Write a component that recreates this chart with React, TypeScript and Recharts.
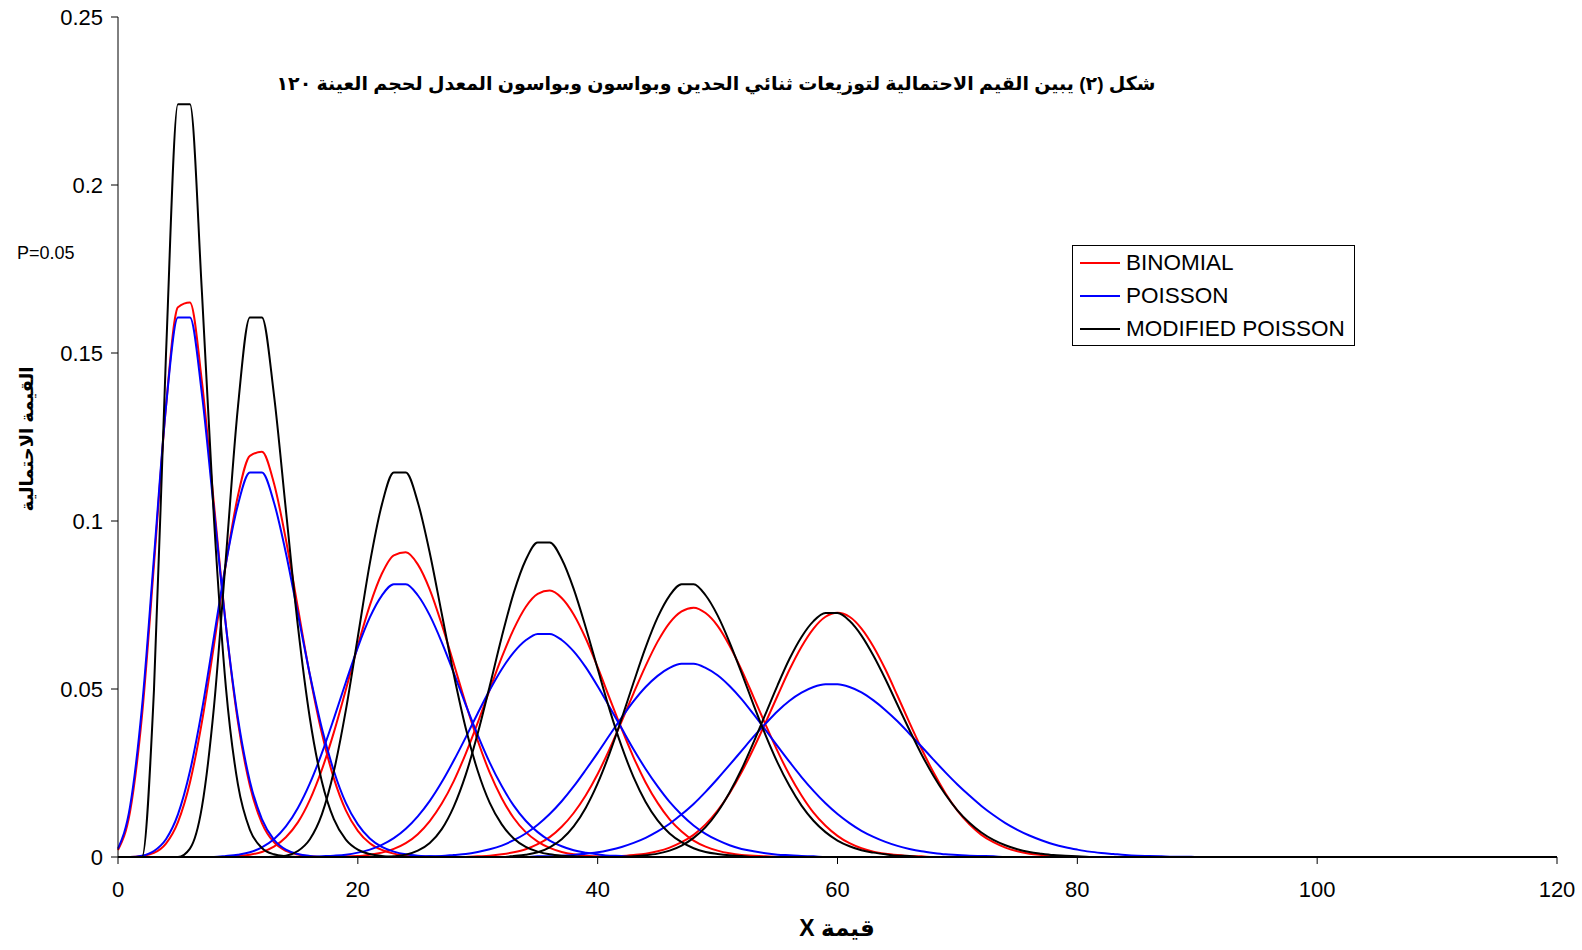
import { LineChart, Line, XAxis, YAxis, Legend } from 'recharts';

const RED = '#FF0000';
const BLUE = '#0000FF';
const BLACK = '#000000';

// x = 0 .. 120
const xValues = Array.from({ length: 121 }, (_, i) => i);
const xTicks = [0, 20, 40, 60, 80, 100, 120];
const yTicks = [0, 0.05, 0.1, 0.15, 0.2, 0.25];

// groups: P = 0.05, 0.1, 0.2, 0.3, 0.4, 0.5 (n = 120)
const groupKeys = ['p05', 'p10', 'p20', 'p30', 'p40', 'p50'];

// first x of each list (before it the curve lies on 0)
const binomialStarts = [0, 2, 10, 19, 30, 41];
const poissonStarts = [0, 2, 9, 17, 26, 35];
const modifiedStarts = [3, 6, 13, 23, 33, 43];

const binomialP05 = [0.0021, 0.0134, 0.042, 0.087, 0.134, 0.1636, 0.165, 0.1414, 0.1051, 0.0689, 0.0402, 0.0212, 0.0101, 0.0044, 0.0018, 0.0007, 0.0002];
const binomialP10 = [0.0003, 0.0012, 0.004, 0.0104, 0.0222, 0.0402, 0.063, 0.0872, 0.1075, 0.1194, 0.1206, 0.1113, 0.0945, 0.0742, 0.0541, 0.0368, 0.0234, 0.0139, 0.0078, 0.0041, 0.0021, 0.001, 0.0004, 0.0002];
const binomialP20 = [0.0003, 0.0007, 0.0015, 0.0031, 0.0059, 0.0103, 0.017, 0.026, 0.0371, 0.0498, 0.0629, 0.0749, 0.0843, 0.0898, 0.0907, 0.0871, 0.0796, 0.0692, 0.0575, 0.0456, 0.0346, 0.0251, 0.0175, 0.0116, 0.0074, 0.0046, 0.0027, 0.0015, 0.0008, 0.0004, 0.0002];
const binomialP30 = [0.0002, 0.0003, 0.0007, 0.0013, 0.0024, 0.0041, 0.0068, 0.0107, 0.0159, 0.0226, 0.0308, 0.04, 0.0498, 0.0594, 0.0678, 0.0744, 0.0783, 0.0793, 0.0771, 0.0722, 0.0651, 0.0565, 0.0472, 0.0381, 0.0296, 0.0222, 0.0161, 0.0112, 0.0076, 0.0049, 0.0031, 0.0019, 0.0011, 0.0006, 0.0004, 0.0002];
const binomialP40 = [0.0002, 0.0004, 0.0008, 0.0014, 0.0023, 0.0038, 0.0059, 0.009, 0.0131, 0.0183, 0.0247, 0.0322, 0.0404, 0.0488, 0.0569, 0.0641, 0.0697, 0.0731, 0.0742, 0.0726, 0.0688, 0.0629, 0.0557, 0.0476, 0.0394, 0.0315, 0.0244, 0.0183, 0.0132, 0.0093, 0.0063, 0.0041, 0.0026, 0.0016, 0.001, 0.0006, 0.0003, 0.0002];
const binomialP50 = [0.0002, 0.0003, 0.0006, 0.001, 0.0017, 0.0028, 0.0044, 0.0066, 0.0097, 0.0138, 0.019, 0.0252, 0.0323, 0.04, 0.048, 0.0558, 0.0626, 0.068, 0.0715, 0.0727, 0.0715, 0.068, 0.0626, 0.0558, 0.048, 0.04, 0.0323, 0.0252, 0.019, 0.0138, 0.0097, 0.0066, 0.0044, 0.0028, 0.0017, 0.001, 0.0006, 0.0003, 0.0002];

const poissonP05 = [0.0025, 0.0149, 0.0446, 0.0892, 0.1339, 0.1606, 0.1606, 0.1377, 0.1033, 0.0688, 0.0413, 0.0225, 0.0113, 0.0052, 0.0022, 0.0009, 0.0003];
const poissonP10 = [0.0004, 0.0018, 0.0053, 0.0127, 0.0255, 0.0437, 0.0655, 0.0874, 0.1048, 0.1144, 0.1144, 0.1056, 0.0905, 0.0724, 0.0543, 0.0383, 0.0256, 0.0161, 0.0097, 0.0055, 0.003, 0.0016, 0.0008, 0.0004, 0.0002];
const poissonP20 = [0.0003, 0.0007, 0.0014, 0.0029, 0.0053, 0.0091, 0.0146, 0.0219, 0.0309, 0.0412, 0.052, 0.0624, 0.0713, 0.0778, 0.0812, 0.0812, 0.0779, 0.0719, 0.0639, 0.0548, 0.0453, 0.0363, 0.0281, 0.0211, 0.0153, 0.0108, 0.0074, 0.0049, 0.0032, 0.002, 0.0013, 0.0008, 0.0004, 0.0003];
const poissonP30 = [0.0002, 0.0004, 0.0007, 0.0013, 0.0022, 0.0036, 0.0056, 0.0084, 0.0121, 0.0167, 0.0223, 0.0287, 0.0356, 0.0428, 0.0497, 0.0559, 0.0609, 0.0645, 0.0664, 0.0664, 0.0646, 0.0612, 0.0565, 0.0508, 0.0446, 0.0383, 0.032, 0.0262, 0.021, 0.0164, 0.0126, 0.0094, 0.0069, 0.005, 0.0035, 0.0024, 0.0017, 0.0011, 0.0007, 0.0005, 0.0003, 0.0002];
const poissonP40 = [0.0002, 0.0003, 0.0006, 0.0009, 0.0015, 0.0023, 0.0034, 0.005, 0.007, 0.0096, 0.0128, 0.0166, 0.021, 0.0259, 0.031, 0.0363, 0.0415, 0.0464, 0.0506, 0.0539, 0.0563, 0.0575, 0.0575, 0.0563, 0.0541, 0.0509, 0.047, 0.0425, 0.0378, 0.033, 0.0283, 0.0238, 0.0197, 0.016, 0.0128, 0.0101, 0.0078, 0.006, 0.0045, 0.0033, 0.0024, 0.0017, 0.0012, 0.0008, 0.0006, 0.0004, 0.0003, 0.0002];
const poissonP50 = [0.0002, 0.0002, 0.0004, 0.0006, 0.001, 0.0014, 0.0021, 0.003, 0.0042, 0.0057, 0.0076, 0.0099, 0.0127, 0.0158, 0.0194, 0.0233, 0.0274, 0.0316, 0.0358, 0.0397, 0.0434, 0.0465, 0.0489, 0.0506, 0.0514, 0.0514, 0.0506, 0.049, 0.0466, 0.0437, 0.0404, 0.0367, 0.0329, 0.029, 0.0252, 0.0216, 0.0183, 0.0152, 0.0125, 0.0101, 0.0081, 0.0064, 0.005, 0.0038, 0.0029, 0.0022, 0.0016, 0.0012, 0.0009, 0.0006, 0.0004, 0.0003, 0.0002, 0.0001, 0.0001];

const modifiedP05 = [0.0498, 0.1494, 0.224, 0.224, 0.168, 0.1008, 0.0504, 0.0216, 0.0081, 0.0027, 0.0008, 0.0002];
const modifiedP10 = [0.0025, 0.0149, 0.0446, 0.0892, 0.1339, 0.1606, 0.1606, 0.1377, 0.1033, 0.0688, 0.0413, 0.0225, 0.0113, 0.0052, 0.0022, 0.0009, 0.0003];
const modifiedP20 = [0.0001, 0.0004, 0.0018, 0.0053, 0.0127, 0.0255, 0.0437, 0.0655, 0.0874, 0.1048, 0.1144, 0.1144, 0.1056, 0.0905, 0.0724, 0.0543, 0.0383, 0.0256, 0.0161, 0.0097, 0.0055, 0.003, 0.0016, 0.0008, 0.0004, 0.0002];
const modifiedP30 = [0.0002, 0.0007, 0.0019, 0.0042, 0.0083, 0.015, 0.0245, 0.0368, 0.0509, 0.0655, 0.0786, 0.0884, 0.0936, 0.0936, 0.0887, 0.0798, 0.0684, 0.056, 0.0438, 0.0329, 0.0237, 0.0164, 0.0109, 0.007, 0.0044, 0.0026, 0.0015, 0.0009, 0.0005, 0.0003];
const modifiedP40 = [0.0003, 0.0007, 0.0014, 0.0029, 0.0053, 0.0091, 0.0146, 0.0219, 0.0309, 0.0412, 0.052, 0.0624, 0.0713, 0.0778, 0.0812, 0.0812, 0.0779, 0.0719, 0.0639, 0.0548, 0.0453, 0.0363, 0.0281, 0.0211, 0.0153, 0.0108, 0.0074, 0.0049, 0.0032, 0.002, 0.0013, 0.0008, 0.0004, 0.0003];
const modifiedP50 = [0.0002, 0.0005, 0.001, 0.0019, 0.0034, 0.0057, 0.0089, 0.0134, 0.0192, 0.0261, 0.0341, 0.0426, 0.0511, 0.059, 0.0655, 0.0702, 0.0726, 0.0726, 0.0703, 0.0659, 0.0599, 0.0529, 0.0453, 0.0378, 0.0306, 0.0242, 0.0186, 0.0139, 0.0102, 0.0073, 0.0051, 0.0035, 0.0023, 0.0015, 0.001, 0.0006, 0.0004, 0.0002];

const binomialLists = [binomialP05, binomialP10, binomialP20, binomialP30, binomialP40, binomialP50];
const poissonLists = [poissonP05, poissonP10, poissonP20, poissonP30, poissonP40, poissonP50];
const modifiedLists = [modifiedP05, modifiedP10, modifiedP20, modifiedP30, modifiedP40, modifiedP50];

const families = [
  { id: 'bin', name: 'BINOMIAL', color: RED, starts: binomialStarts, lists: binomialLists },
  { id: 'poi', name: 'POISSON', color: BLUE, starts: poissonStarts, lists: poissonLists },
  { id: 'mod', name: 'MODIFIED POISSON', color: BLACK, starts: modifiedStarts, lists: modifiedLists },
];

const rows = xValues.map((x) => {
  const row: Record<string, number> = { x };
  families.forEach((f) => {
    f.lists.forEach((list, i) => {
      const idx = x - f.starts[i];
      row[`${f.id}_${groupKeys[i]}`] = idx >= 0 && idx < list.length ? list[idx] : 0;
    });
  });
  return row;
});

const LegendBox = () => (
  <div style={{ border: '1px solid #000', background: '#fff', width: 281, fontSize: 22.5, color: '#000' }}>
    {families.map((f) => (
      <div key={f.id} style={{ display: 'flex', alignItems: 'center', height: 33 }}>
        <span style={{ display: 'inline-block', width: 40, borderTop: `2px solid ${f.color}`, marginLeft: 7, marginRight: 6 }} />
        <span>{f.name}</span>
      </div>
    ))}
  </div>
);

const YTitle = () => (
  <text x={27} y={439} transform="rotate(-90 27 439)" textAnchor="middle" dominantBaseline="central"
    fontWeight="bold" fontSize={18} fill="#000">
    القيمة الاحتمالية
  </text>
);

const XTitle = () => (
  <text x={837} y={928} textAnchor="middle" dominantBaseline="central" direction="rtl"
    fontWeight="bold" fontSize={23} fill="#000">
    قيمة X
  </text>
);

const App = () => {
  return (
    <div style={{ position: 'absolute', left: 0, top: 0, width: 1582, height: 950, background: '#fff',
      fontFamily: '"Liberation Sans", Arial, "DejaVu Sans", sans-serif' }}>
      <LineChart width={1582} height={950} data={rows} margin={{ top: 17, right: 25, bottom: 0, left: 0 }}>
        <XAxis dataKey="x" type="number" domain={[0, 120]} ticks={xTicks} height={93}
          stroke="#000" tickSize={7} tickMargin={17} tick={{ fill: '#000', fontSize: 22 }} label={<XTitle />} />
        <YAxis type="number" domain={[0, 0.25]} ticks={yTicks} width={118}
          stroke="#000" tickSize={7} tickMargin={8} tick={{ fill: '#000', fontSize: 22 }} label={<YTitle />} />
        <XAxis xAxisId="top" orientation="top" type="number" domain={[0, 120]} height={0}
          tick={false} tickLine={false} stroke="#808080" />
        <YAxis yAxisId="right" orientation="right" type="number" domain={[0, 0.25]} width={0}
          tick={false} tickLine={false} stroke="#808080" />
        {families.map((f) =>
          groupKeys.map((g) => (
            <Line key={`${f.id}_${g}`} dataKey={`${f.id}_${g}`} type="monotone" stroke={f.color}
              strokeWidth={2} dot={false} activeDot={false} isAnimationActive={false} />
          ))
        )}
        <Legend layout="vertical" align="center" verticalAlign="middle" content={<LegendBox />}
          wrapperStyle={{ left: 1072, top: 245, width: 283 }} />
      </LineChart>
      <div dir="rtl" style={{ position: 'absolute', left: 716, top: 83, transform: 'translate(-50%, -50%)',
        whiteSpace: 'nowrap', fontWeight: 'bold', fontSize: 19, color: '#000' }}>
        شكل (٢) يبين القيم الاحتمالية لتوزيعات ثنائي الحدين وبواسون وبواسون المعدل لحجم العينة ١٢٠
      </div>
      <div style={{ position: 'absolute', left: 17, top: 243, fontSize: 18, color: '#000' }}>P=0.05</div>
    </div>
  );
};

export default App;
